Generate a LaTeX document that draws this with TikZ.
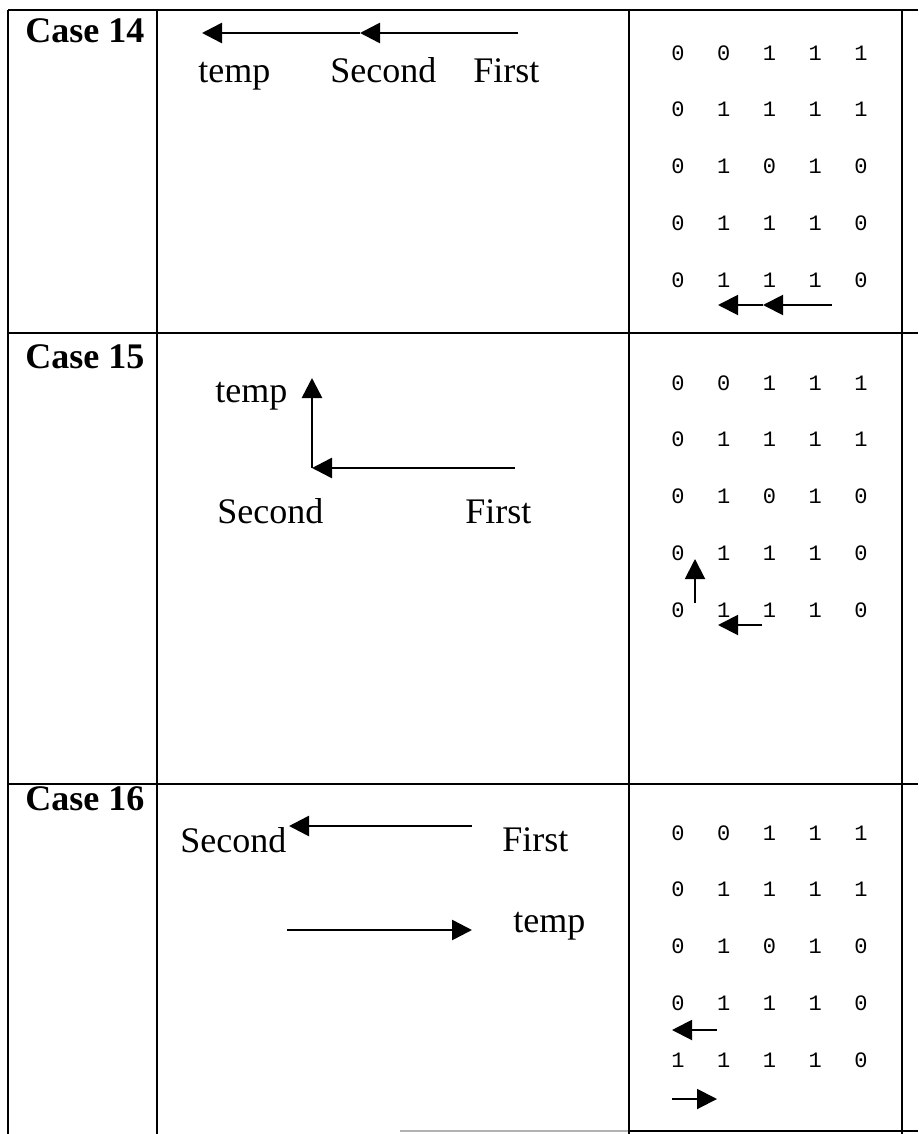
\documentclass[tikz,border=0pt]{standalone}
\usepackage{fontspec}
\setmainfont{Liberation Serif}
\setmonofont{Liberation Mono}
\usetikzlibrary{arrows.meta}

\begin{document}
\begin{tikzpicture}[x=0.5pt,y=0.5pt,
  rule/.style={line width=1pt},
  casehead/.style={anchor=base west,inner sep=0pt,font=\fontsize{18}{20}\selectfont\bfseries},
  lbl/.style={anchor=base west,inner sep=0pt,font=\fontsize{18}{20}\selectfont},
  bit/.style={inner sep=0pt,font=\fontsize{11}{13}\ttfamily},
  arr/.style={line width=1.3pt,-{Triangle[length=10pt,width=10pt]}},
  smallarr/.style={line width=1pt,-{Triangle[length=10pt,width=10pt]}}]
\useasboundingbox (0,0) rectangle (918,-1134);

% table rules
\draw[rule] (8,-10) -- (918,-10);
\draw[rule] (8,-333) -- (918,-333);
\draw[rule] (8,-784) -- (918,-784);
\draw[rule,gray!60] (400,-1131) -- (629,-1131);
\draw[rule] (629,-1131) -- (918,-1131);
\foreach \x in {8,157,629,902} \draw[rule] (\x,-10) -- (\x,-1134);

\node[casehead] (c14) at (25,-43) {Case 14};
\node[casehead] (c15) at (25,-368) {Case 15};
\node[casehead] (c16) at (25,-810) {Case 16};

% case 14
\node[lbl] (temp14) at (198,-83) {temp};
\node[lbl] (sec14) at (330,-83) {Second};
\node[lbl] (fst14) at (473,-83) {First};
\coordinate (f14) at (518,-33);
\coordinate (s14) at (360,-33);
\coordinate (t14) at (202,-33);
\draw[arr] (f14) -- (s14);
\draw[arr] (s14) -- (t14);

% case 15
\node[lbl] (temp15) at (215,-402) {temp};
\node[lbl] (sec15) at (217,-523) {Second};
\node[lbl] (fst15) at (465,-523) {First};
\coordinate (f15) at (515,-468);
\coordinate (s15) at (312,-468);
\coordinate (t15) at (312,-378);
\draw[arr] (f15) -- (s15);
\draw[arr] (s15) -- (t15);

% case 16
\node[lbl] (sec16) at (180,-852) {Second};
\node[lbl] (fst16) at (502,-851) {First};
\node[lbl] (temp16) at (513,-932) {temp};
\coordinate (f16) at (472,-826);
\coordinate (s16) at (289,-826);
\coordinate (a16) at (287,-930);
\coordinate (t16) at (472,-930);
\draw[arr] (f16) -- (s16);
\draw[arr] (a16) -- (t16);

% bit grids
\foreach \row [count=\i from 0] in {{0,0,1,1,1},{0,1,1,1,1},{0,1,0,1,0},{0,1,1,1,0},{0,1,1,1,0}}
  \foreach \b [count=\j from 0] in \row
    \node[bit] (p14-\i-\j) at ({678+45.75*\j},{-53-56.7*\i}) {\b};
\foreach \row [count=\i from 0] in {{0,0,1,1,1},{0,1,1,1,1},{0,1,0,1,0},{0,1,1,1,0},{0,1,1,1,0}}
  \foreach \b [count=\j from 0] in \row
    \node[bit] (p15-\i-\j) at ({678+45.75*\j},{-383-56.7*\i}) {\b};
\foreach \row [count=\i from 0] in {{0,0,1,1,1},{0,1,1,1,1},{0,1,0,1,0},{0,1,1,1,0},{1,1,1,1,0}}
  \foreach \b [count=\j from 0] in \row
    \node[bit] (p16-\i-\j) at ({678+45.75*\j},{-833-56.7*\i}) {\b};

% moves on the grids
\coordinate (g14a) at (832,-305);
\coordinate (g14b) at (763,-305);
\coordinate (g14c) at (718,-305);
\draw[smallarr] (g14a) -- (g14b);
\draw[smallarr] (g14b) -- (g14c);

\coordinate (g15a) at (695,-603);
\coordinate (g15b) at (695,-559);
\coordinate (g15c) at (762,-625);
\coordinate (g15d) at (718,-625);
\draw[smallarr] (g15a) -- (g15b);
\draw[smallarr] (g15c) -- (g15d);

\coordinate (g16a) at (717,-1030);
\coordinate (g16b) at (672,-1030);
\coordinate (g16c) at (672,-1099);
\coordinate (g16d) at (717,-1099);
\draw[smallarr] (g16a) -- (g16b);
\draw[smallarr] (g16c) -- (g16d);
\end{tikzpicture}
\end{document}
